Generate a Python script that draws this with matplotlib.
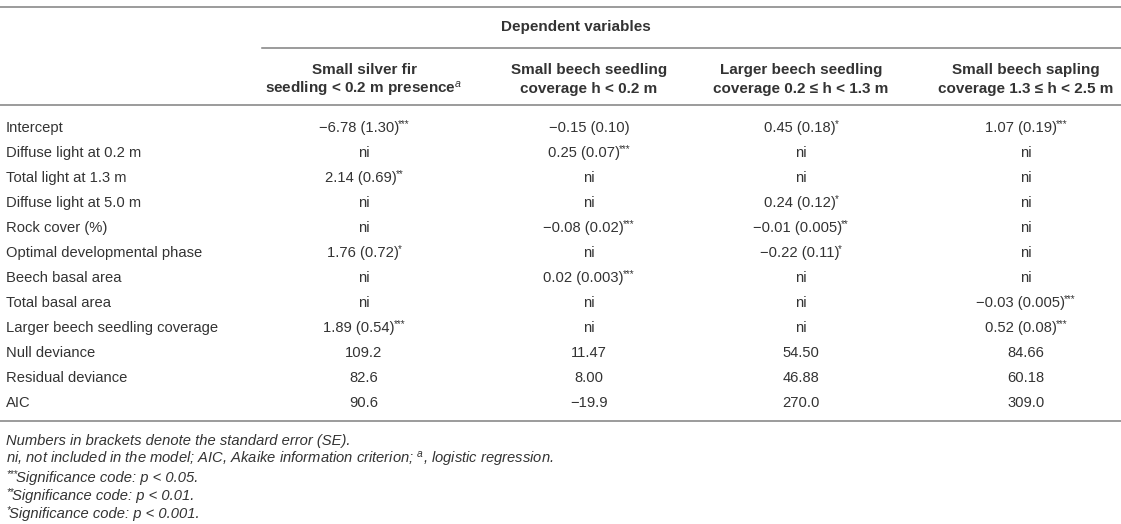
import matplotlib.pyplot as plt
from matplotlib.lines import Line2D

plt.rcParams['font.family'] = ['Liberation Sans', 'DejaVu Sans']
plt.rcParams['mathtext.fontset'] = 'custom'
plt.rcParams['mathtext.rm'] = 'Liberation Sans'
plt.rcParams['mathtext.it'] = 'Liberation Sans:italic'
plt.rcParams['mathtext.bf'] = 'Liberation Sans:bold'

# ---------------------------------------------------------------- data
group_title = 'Dependent variables'
col_heads = [
    ['Small silver fir', r'seedling < 0.2 m presence$^{\mathit{a}}$'],
    ['Small beech seedling', 'coverage h < 0.2 m'],
    ['Larger beech seedling', 'coverage 0.2 ≤ h < 1.3 m'],
    ['Small beech sapling', 'coverage 1.3 ≤ h < 2.5 m'],
]
row_labels = ['Intercept', 'Diffuse light at 0.2 m', 'Total light at 1.3 m',
              'Diffuse light at 5.0 m', 'Rock cover (%)',
              'Optimal developmental phase', 'Beech basal area',
              'Total basal area', 'Larger beech seedling coverage',
              'Null deviance', 'Residual deviance', 'AIC']
fir_small = ['−6.78 (1.30)***', 'ni', '2.14 (0.69)**', 'ni', 'ni',
             '1.76 (0.72)*', 'ni', 'ni', '1.89 (0.54)***',
             '109.2', '82.6', '90.6']
beech_small = ['−0.15 (0.10)', '0.25 (0.07)***', 'ni', 'ni',
               '−0.08 (0.02)***', 'ni', '0.02 (0.003)***', 'ni', 'ni',
               '11.47', '8.00', '−19.9']
beech_larger = ['0.45 (0.18)*', 'ni', 'ni', '0.24 (0.12)*',
                '−0.01 (0.005)**', '−0.22 (0.11)*', 'ni', 'ni', 'ni',
                '54.50', '46.88', '270.0']
sapling = ['1.07 (0.19)***', 'ni', 'ni', 'ni', 'ni', 'ni', 'ni',
           '−0.03 (0.005)***', '0.52 (0.08)***', '84.66', '60.18', '309.0']
footnotes = [
    'Numbers in brackets denote the standard error (SE).',
    r'ni, not included in the model; AIC, Akaike information criterion; $^{a}$, logistic regression.',
    '***Significance code: p < 0.05.',
    '**Significance code: p < 0.01.',
    '*Significance code: p < 0.001.',
]

# ---------------------------------------------------------------- layout
W, H = 1121, 524
fig = plt.figure(figsize=(W / 100, H / 100), dpi=100)
ax = fig.add_axes([0, 0, 1, 1])
ax.set_xlim(0, W)
ax.set_ylim(H, 0)
ax.axis('off')

txt = '#333333'
rule = '#808080'
fs = 10.6
fs_head = 11
fs_star = 7
col_x = [364, 589, 801, 1026]
row_y0, row_dy = 128, 25
note_y0, note_dy = 441, 18.3

fig.canvas.draw()
renderer = fig.canvas.get_renderer()


def width_of(t):
    bb = t.get_window_extent(renderer)
    return bb.width


def hline(y, x0=0, x1=W):
    ax.add_line(Line2D([x0, x1], [y, y], color=rule, lw=1.1))


def starred(x, y, s, align='center', **kw):
    # value text with trailing (or leading) asterisks set as small superscripts
    core = s.strip('*')
    lead = len(s) - len(s.lstrip('*'))
    trail = len(s) - len(s.rstrip('*'))
    tc = ax.text(0, y, core, ha='left', va='center', fontsize=fs, color=txt, **kw)
    wc = width_of(tc)
    stars = '*' * (lead or trail)
    ws = 0
    ts = None
    if stars:
        ts = ax.text(0, y - 4, stars, ha='left', va='center', fontsize=fs_star,
                     color=txt, **kw)
        ws = width_of(ts) - 1
    left = x - (wc + ws) / 2 if align == 'center' else x
    if lead:
        ts.set_x(left)
        tc.set_x(left + ws)
    else:
        tc.set_x(left)
        if ts is not None:
            ts.set_x(left + wc - 1)


hline(7)
ax.text(576, 27, group_title, ha='center', va='center', fontsize=fs_head,
        fontweight='bold', color=txt)
hline(48, 262)
for x, (l1, l2) in zip(col_x, col_heads):
    ax.text(x, 70, l1, ha='center', va='center', fontsize=fs_head,
            fontweight='bold', color=txt)
    ax.text(x, 89, l2, ha='center', va='center', fontsize=fs_head,
            fontweight='bold', color=txt)
hline(105)

columns = [fir_small, beech_small, beech_larger, sapling]
for i, lab in enumerate(row_labels):
    y = row_y0 + i * row_dy
    ax.text(6, y, lab, ha='left', va='center', fontsize=fs, color=txt)
    for x, col in zip(col_x, columns):
        starred(x, y, col[i])

hline(421)
for i, note in enumerate(footnotes):
    y = note_y0 + i * note_dy
    if note.startswith('*'):
        starred(6, y, note, align='left', style='italic')
    else:
        ax.text(6, y, note, ha='left', va='center', fontsize=fs,
                style='italic', color=txt)

fig.savefig('out.png', dpi=100)
